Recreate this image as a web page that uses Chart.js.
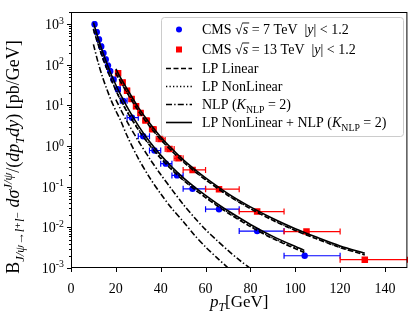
<!DOCTYPE html>
<html>
<head>
<meta charset="utf-8">
<script src="https://cdn.jsdelivr.net/npm/chart.js@4.4.1/dist/chart.umd.min.js"></script>
<style>
  html, body { margin: 0; padding: 0; background: #fff; }
</style>
</head>
<body>
<canvas id="chart" width="412" height="320"></canvas>
<script>
// CMS data, sqrt(s) = 7 TeV, |y| < 1.2
const pt7  = [10.5, 11.5, 12.5, 13.5, 14.5, 15.5, 16.5, 17.5, 18.9, 20.9, 23.3, 27.2, 32.2, 37.2, 42.3, 47.3, 54.2, 66.0, 83.0, 104.2];
const cs7  = [1000, 640, 420, 285, 195, 135, 96, 70, 44, 25, 13, 5.0, 1.75, 0.78, 0.37, 0.19, 0.089, 0.028, 0.0081, 0.0020];
const lo7  = [10, 11, 12, 13, 14, 15, 16, 17, 18, 20, 22, 25, 30, 35, 40, 45, 50, 60, 75, 95];
const hi7  = [11, 12, 13, 14, 15, 16, 17, 18, 20, 22, 25, 30, 35, 40, 45, 50, 60, 75, 95, 120];

// CMS data, sqrt(s) = 13 TeV, |y| < 1.2
const pt13 = [21, 23, 25, 27, 29, 31, 33.4, 36.4, 39.9, 43.9, 47.9, 54.2, 66.0, 83.0, 105.0, 131.0];
const cs13 = [62, 37, 23, 14.5, 9.6, 6.5, 4.3, 2.6, 1.5, 0.85, 0.5, 0.26, 0.087, 0.0245, 0.0079, 0.0016];
const lo13 = [20, 22, 24, 26, 28, 30, 32, 35, 38, 42, 46, 50, 60, 75, 95, 120];
const hi13 = [22, 24, 26, 28, 30, 32, 35, 38, 42, 46, 50, 60, 75, 95, 120, 150];

// theory curves, 7 TeV
const curvePt7   = [10, 12, 14, 16, 18, 20, 22, 25, 30, 35, 40, 45, 50, 55, 60, 65, 70, 80, 90, 104];
const lpLin7     = [740, 330, 155, 79, 42, 23.5, 14, 7.0, 2.55, 1.06, 0.50, 0.26, 0.146, 0.087, 0.054, 0.0345, 0.0226, 0.0104, 0.0053, 0.0024];
const lpNonLin7  = [770, 345, 161, 82, 43.5, 24.3, 14.4, 7.25, 2.64, 1.1, 0.52, 0.27, 0.151, 0.09, 0.056, 0.0358, 0.0235, 0.0108, 0.0055, 0.0025];
const lpNlpSum7  = [1100, 470, 215, 108, 57, 32, 19, 9.2, 3.2, 1.3, 0.6, 0.305, 0.168, 0.099, 0.061, 0.039, 0.0256, 0.0118, 0.0060, 0.0027];
const nlpPt7     = [10, 12, 14, 16, 18, 20, 22, 25, 30, 35, 40, 45, 50, 55, 60, 65, 71];
const nlp7       = [320, 119, 51, 25, 13, 7.4, 4.4, 1.8, 0.50, 0.17, 0.067, 0.029, 0.014, 0.0065, 0.0033, 0.0018, 0.0009];

// theory curves, 13 TeV
const curvePt13  = [20, 22, 25, 30, 35, 40, 45, 50, 55, 60, 70, 80, 90, 100, 110, 120, 131];
const lpLin13    = [62, 39, 20.5, 7.4, 3.1, 1.45, 0.75, 0.41, 0.242, 0.148, 0.061, 0.0288, 0.0149, 0.0084, 0.0051, 0.0032, 0.0021];
const lpNonLin13 = [64, 40.5, 21.3, 7.65, 3.2, 1.49, 0.77, 0.42, 0.248, 0.152, 0.0625, 0.0295, 0.0153, 0.0086, 0.0052, 0.00325, 0.00213];
const lpNlpSum13 = [80, 49, 25.5, 9.0, 3.7, 1.68, 0.86, 0.465, 0.272, 0.166, 0.068, 0.032, 0.0165, 0.0093, 0.0056, 0.0035, 0.0023];
const nlpPt13    = [20, 22, 25, 30, 35, 40, 45, 50, 55, 60, 65, 70, 75, 82];
const nlp13      = [14, 8.3, 4.0, 1.35, 0.50, 0.2, 0.085, 0.037, 0.0175, 0.0088, 0.0048, 0.0027, 0.00158, 0.0008];

// axes
const xTicks = [0, 20, 40, 60, 80, 100, 120, 140];
const yExps  = [-3, -2, -1, 0, 1, 2, 3];

const SERIF = '"Liberation Serif", "DejaVu Serif", serif';
const BLUE = '#0000ff';
const RED = '#ff0000';

const pts = (xs, ys) => xs.map((x, i) => ({x: x, y: ys[i]}));

function curve(xs, ys, dash) {
    return {
        type: 'line',
        data: pts(xs, ys),
        borderColor: '#000',
        borderWidth: 1.6,
        borderDash: dash,
        pointRadius: 0,
        tension: 0.3,
        fill: false,
        order: 1
    };
}

// draw a run of text pieces (italic / sub / sup / overline) left to right
function rich(ctx, segs, x, y, size, draw) {
    let cx = x;
    for (const s of segs) {
        const fs = (s.sub || s.sup) ? size * 0.7 : size;
        ctx.font = (s.it ? 'italic ' : '') + fs + 'px ' + SERIF;
        const dy = s.sub ? size * 0.25 : (s.sup ? -size * 0.4 : 0);
        const w = ctx.measureText(s.t).width;
        if (draw) {
            ctx.fillText(s.t, cx, y + dy);
            if (s.over) ctx.fillRect(cx - 0.5, y - size * 0.82, w + 1.5, 0.9);
        }
        cx += w;
    }
    return cx - x;
}

const legendRows = [
    {kind: 'circle', segs: [{t: 'CMS '}, {t: '√'}, {t: 's', it: true, over: true}, {t: ' = 7 TeV  |'}, {t: 'y', it: true}, {t: '| < 1.2'}]},
    {kind: 'square', segs: [{t: 'CMS '}, {t: '√'}, {t: 's', it: true, over: true}, {t: ' = 13 TeV  |'}, {t: 'y', it: true}, {t: '| < 1.2'}]},
    {kind: [5, 2.5], segs: [{t: 'LP Linear'}]},
    {kind: [1.3, 2.2], segs: [{t: 'LP NonLinear'}]},
    {kind: [6, 2.2, 1.4, 2.2], segs: [{t: 'NLP ('}, {t: 'K', it: true}, {t: 'NLP', sub: true}, {t: ' = 2)'}]},
    {kind: [], segs: [{t: 'LP NonLinear + NLP ('}, {t: 'K', it: true}, {t: 'NLP', sub: true}, {t: ' = 2)'}]}
];
const legendRowY = [29.5, 49.5, 68.5, 86.5, 104.5, 122.5];

const yTitle = [
    {t: 'B'}, {t: 'J/ψ→', sub: true, it: true}, {t: 'l⁺l⁻', sub: true, it: true}, {t: ' '},
    {t: 'dσ', it: true}, {t: 'J/ψ', sup: true, it: true}, {t: '/('}, {t: 'dp', it: true},
    {t: 'T', sub: true, it: true}, {t: 'dy', it: true}, {t: ') [pb/GeV]'}
];
const xTitle = [{t: 'p', it: true}, {t: 'T', sub: true, it: true}, {t: '[GeV]'}];

const deco = {
    id: 'deco',
    beforeDatasetsDraw(chart) {
        const ctx = chart.ctx, xs = chart.scales.x, ys = chart.scales.y;
        const bars = [[pt7, cs7, lo7, hi7, BLUE], [pt13, cs13, lo13, hi13, RED]];
        ctx.save();
        ctx.lineWidth = 1.2;
        for (const [p, v, lo, hi, col] of bars) {
            ctx.strokeStyle = col;
            for (let i = 0; i < p.length; i++) {
                const y = ys.getPixelForValue(v[i]);
                const a = xs.getPixelForValue(lo[i]), b = xs.getPixelForValue(hi[i]);
                ctx.beginPath();
                ctx.moveTo(a, y); ctx.lineTo(b, y);
                ctx.moveTo(a, y - 3); ctx.lineTo(a, y + 3);
                ctx.moveTo(b, y - 3); ctx.lineTo(b, y + 3);
                ctx.stroke();
            }
        }
        ctx.restore();
    },
    afterDraw(chart) {
        const ctx = chart.ctx, a = chart.chartArea, xs = chart.scales.x, ys = chart.scales.y;
        ctx.save();
        ctx.strokeStyle = '#000';
        ctx.fillStyle = '#000';
        ctx.lineWidth = 1;
        ctx.strokeRect(a.left + 0.5, a.top + 0.5, a.right - a.left - 1, a.bottom - a.top - 1);

        // x ticks
        ctx.beginPath();
        for (const t of xTicks) {
            const x = Math.round(xs.getPixelForValue(t)) + 0.5;
            ctx.moveTo(x, a.bottom); ctx.lineTo(x, a.bottom + 4);
        }
        // y ticks, major and minor
        for (const e of yExps) {
            const y = Math.round(ys.getPixelForValue(Math.pow(10, e))) + 0.5;
            ctx.moveTo(a.left - 4, y); ctx.lineTo(a.left, y);
            for (let k = 2; k <= 9; k++) {
                const v = k * Math.pow(10, e);
                if (v > ys.max) continue;
                const ym = Math.round(ys.getPixelForValue(v)) + 0.5;
                ctx.moveTo(a.left - 2, ym); ctx.lineTo(a.left, ym);
            }
        }
        ctx.stroke();

        // y tick labels 10^n
        ctx.textBaseline = 'alphabetic';
        ctx.textAlign = 'left';
        for (const e of yExps) {
            const y = ys.getPixelForValue(Math.pow(10, e));
            const segs = [{t: '10'}, {t: String(e), sup: true}];
            const w = rich(ctx, segs, 0, 0, 14, false);
            rich(ctx, segs, a.left - 7 - w, y + 5, 14, true);
        }

        // axis titles
        const xw = rich(ctx, xTitle, 0, 0, 17, false);
        rich(ctx, xTitle, (a.left + a.right) / 2 - xw / 2, 307, 17, true);
        const yw = rich(ctx, yTitle, 0, 0, 18, false);
        ctx.save();
        ctx.translate(19, 157);
        ctx.rotate(-Math.PI / 2);
        rich(ctx, yTitle, -yw / 2, 0, 18, true);
        ctx.restore();

        // legend
        const L = {x: 161, y: 17, w: 242, h: 119};
        ctx.beginPath();
        ctx.roundRect(L.x + 0.5, L.y + 0.5, L.w, L.h, 3);
        ctx.fillStyle = 'rgba(255,255,255,0.85)';
        ctx.fill();
        ctx.strokeStyle = '#cccccc';
        ctx.stroke();
        legendRows.forEach((r, i) => {
            const cy = legendRowY[i];
            if (r.kind === 'circle') {
                ctx.fillStyle = BLUE;
                ctx.beginPath(); ctx.arc(179, cy, 3, 0, Math.PI * 2); ctx.fill();
            } else if (r.kind === 'square') {
                ctx.fillStyle = RED;
                ctx.fillRect(176, cy - 3, 6, 6);
            } else {
                ctx.strokeStyle = '#000';
                ctx.lineWidth = 1.6;
                ctx.setLineDash(r.kind);
                ctx.beginPath(); ctx.moveTo(166, cy); ctx.lineTo(192, cy); ctx.stroke();
                ctx.setLineDash([]);
            }
            ctx.fillStyle = '#000';
            rich(ctx, r.segs, 202, cy + 4.5, 14, true);
        });
        ctx.restore();
    }
};

new Chart(document.getElementById('chart'), {
    type: 'scatter',
    data: {
        datasets: [
            curve(curvePt7, lpLin7, [5, 2.5]),
            curve(curvePt7, lpNonLin7, [1.3, 2.2]),
            curve(nlpPt7, nlp7, [6, 2.2, 1.4, 2.2]),
            curve(curvePt7, lpNlpSum7, []),
            curve(curvePt13, lpLin13, [5, 2.5]),
            curve(curvePt13, lpNonLin13, [1.3, 2.2]),
            curve(nlpPt13, nlp13, [6, 2.2, 1.4, 2.2]),
            curve(curvePt13, lpNlpSum13, []),
            {
                label: '7 TeV',
                data: pts(pt7, cs7),
                pointStyle: 'circle',
                pointRadius: 3.2,
                backgroundColor: BLUE,
                borderColor: BLUE,
                borderWidth: 0,
                order: 2
            },
            {
                label: '13 TeV',
                data: pts(pt13, cs13),
                pointStyle: 'rect',
                pointRadius: 4.6,
                backgroundColor: RED,
                borderColor: RED,
                borderWidth: 0,
                order: 2
            }
        ]
    },
    options: {
        responsive: false,
        animation: false,
        devicePixelRatio: 1,
        layout: {padding: {left: 0, right: 4, top: 12, bottom: 0}},
        plugins: {legend: {display: false}, tooltip: {enabled: false}},
        scales: {
            x: {
                type: 'linear',
                min: 0,
                max: 150,
                afterBuildTicks: (s) => { s.ticks = xTicks.map(v => ({value: v})); },
                afterFit: (s) => { s.height = 52; },
                grid: {display: false},
                border: {display: false},
                ticks: {
                    color: '#000',
                    padding: 5,
                    maxRotation: 0,
                    font: {family: SERIF, size: 14}
                }
            },
            y: {
                type: 'logarithmic',
                min: 1e-3,
                max: 2e3,
                afterBuildTicks: (s) => { s.ticks = yExps.map(e => ({value: Math.pow(10, e)})); },
                afterFit: (s) => { s.width = 71; },
                grid: {display: false},
                border: {display: false},
                ticks: {display: false}
            }
        }
    },
    plugins: [deco]
});
</script>
</body>
</html>
